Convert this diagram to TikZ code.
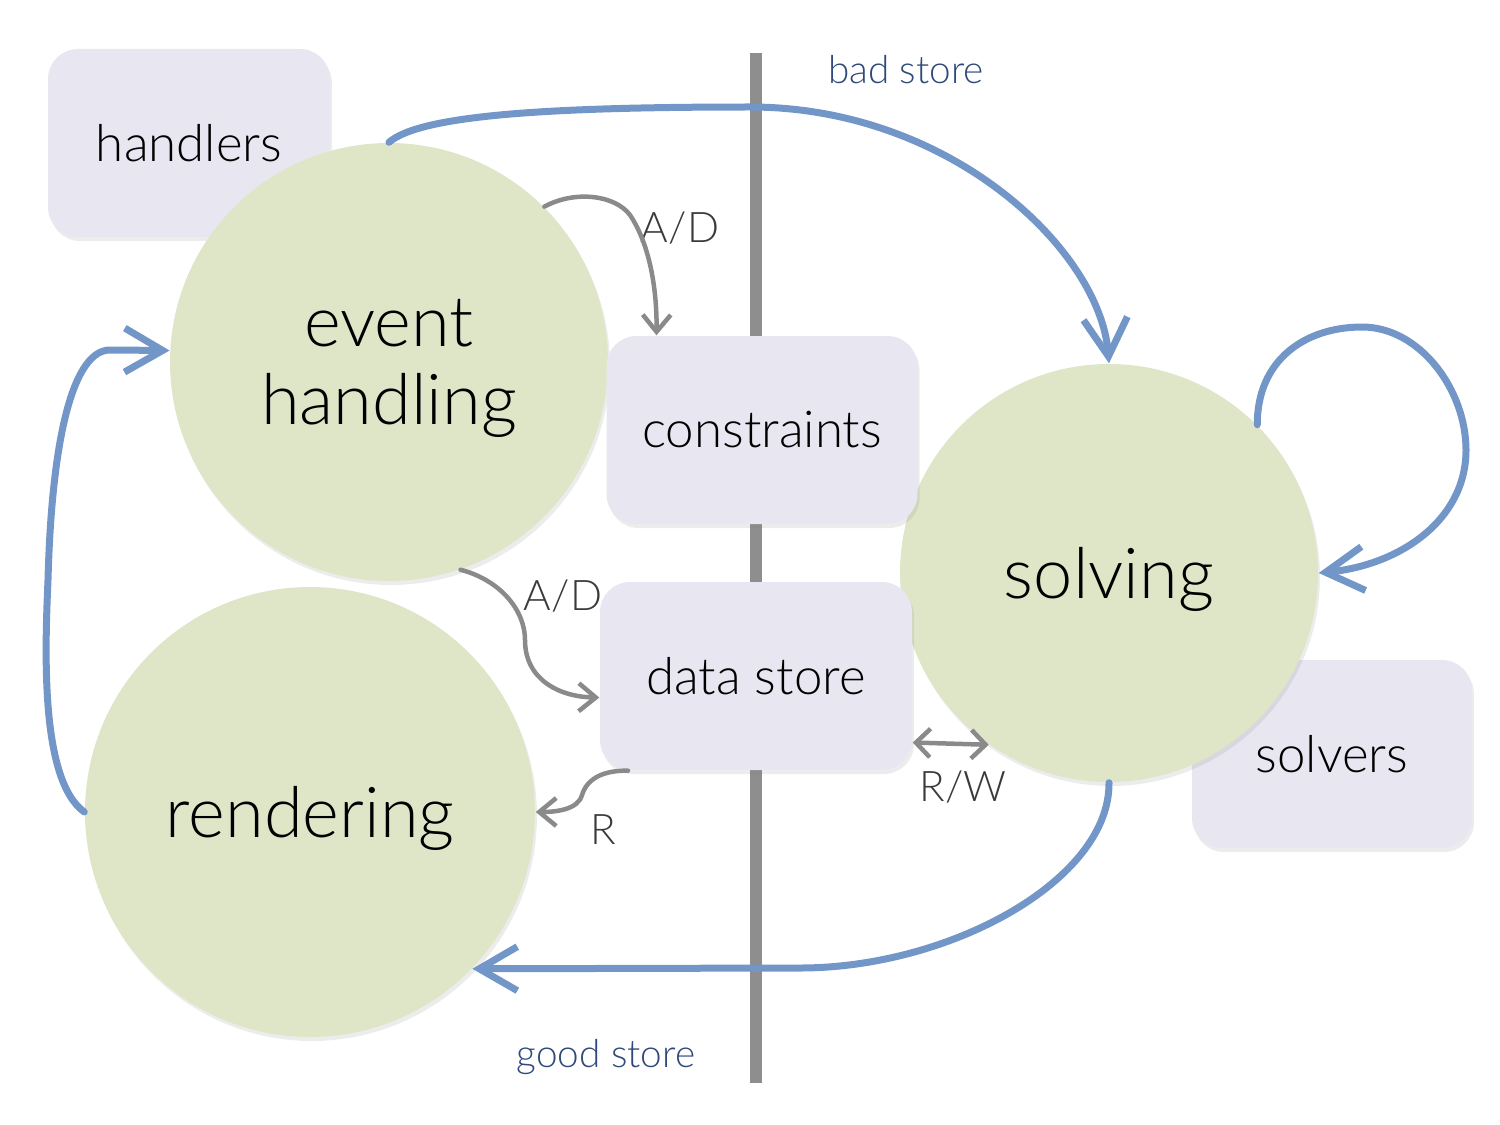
\documentclass[tikz,border=0pt]{standalone}
\usepackage{fontspec}
\setmainfont{Lato Light}
\usetikzlibrary{arrows.meta,shadows}
\definecolor{taskgreen}{HTML}{DFE6C8}
\definecolor{partgray}{HTML}{E8E6F0}
\definecolor{flowblue}{HTML}{7396C9}
\definecolor{accessgray}{HTML}{8A8A8A}
\definecolor{wallgray}{HTML}{8E8E8E}
\definecolor{notegray}{HTML}{3A3A3A}
\definecolor{storeblue}{HTML}{2F4A7A}
\begin{document}
\begin{tikzpicture}[x=0.1mm, y=-0.1mm, >=Straight Barb]
        \tikzstyle{task}=[shape=circle, fill=taskgreen, align=center, text depth=0pt, drop shadow={opacity=0.15, shadow xshift=0.2mm, shadow yshift=-0.4mm}, font=\fontsize{20}{22.2}\selectfont]
        \tikzstyle{part}=[shape=rectangle, rounded corners=3mm, fill=partgray, minimum height=1.88cm, drop shadow={opacity=0.15, shadow xshift=0.2mm, shadow yshift=-0.4mm}, font=\fontsize{14.5}{17}\selectfont]
        \tikzstyle{flow}=[draw=flowblue, line width=0.7mm, line cap=round, -{Straight Barb[length=3.8mm, width=4.4mm]}]
        \tikzstyle{access}=[draw=accessgray, line width=0.45mm, line cap=round, -{Straight Barb[length=1.7mm, width=2.8mm]}]
        \tikzstyle{note}=[text=notegray, font=\fontsize{12}{14}\selectfont]
        \tikzstyle{store}=[text=storeblue, font=\fontsize{11}{13}\selectfont]
        \tikzstyle{wall}=[draw=wallgray, line width=1.2mm]

        \useasboundingbox (0,0) rectangle (1500,1125);

        \coordinate (wt) at (756,53);
        \coordinate (wb) at (756,1083);
        \draw[wall] (wt) -- (wb);

        \node[part, minimum width=2.8cm](sv) at (1332,754){solvers};
        \node[task, minimum size=4.18cm](solv) at (1109,573){solving};
        \node[part, minimum width=2.82cm](hd) at (189,143){handlers};
        \node[task, minimum size=4.38cm](eh) at (389,362){event\\handling};
        \node[part, minimum width=3.11cm](cons) at (762,430){constraints};
        \node[part, minimum width=3.12cm](ds) at (756,676){data store};
        \node[task, minimum size=4.5cm](rend) at (310,812){rendering};

        \node[store](bad) at (906,70){bad store};
        \node[store](good) at (606,1057){good store};
        \node[note](ad1) at (680,228){A/D};
        \node[note](ad2) at (563,596){A/D};
        \node[note](r) at (603,830){R};
        \node[note](rw) at (963,787){R/W};

        % blue flows
        \draw[flow] (eh.north) .. controls (420,115) and (550,107) .. (750,107) .. controls (950,107) and (1100,250) .. (solv.north);
        \draw[flow] (solv.45) .. controls (1257,360) and (1305,327) .. (1362,327) .. controls (1420,327) and (1466,390) .. (1466,450) .. controls (1466,520) and (1400,565) .. (solv.east);
        \draw[flow] (solv.south) .. controls (1110,880) and (950,968) .. (800,968) -- (rend.-44);
        \draw[flow] (rend.west) .. controls (40,780) and (45,650) .. (48,580) .. controls (52,430) and (75,350) .. (110,350) -- (eh.177);

        % gray access
        \draw[access] (eh.45) .. controls (575,190) and (615,195) .. (630,215) .. controls (650,245) and (657,290) .. ([xshift=-10.55mm]cons.north);
        \draw[access] (eh.-71) .. controls (500,580) and (525,610) .. (525,640) .. controls (525,680) and (560,697) .. ([yshift=-2.15mm]ds.west);
        \draw[access] ([xshift=-12.8mm]ds.south) .. controls (595,770) and (585,785) .. (582,795) .. controls (578,810) and (555,812) .. (rend.east);
        \draw[access, <->] ([yshift=-6.65mm]ds.east) -- (solv.235);

\end{tikzpicture}
\end{document}
